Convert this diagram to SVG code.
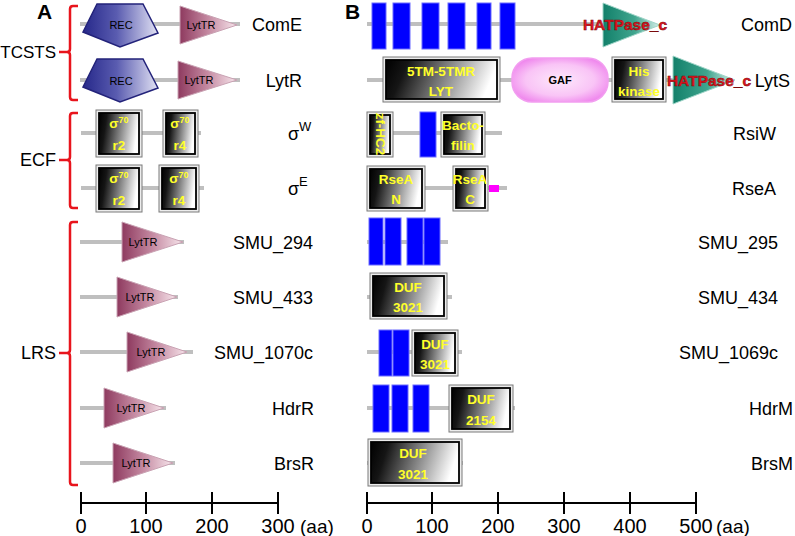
<svg xmlns="http://www.w3.org/2000/svg" width="795" height="536" viewBox="0 0 795 536">
<defs>
<linearGradient id="bw" x1="0" y1="0" x2="1" y2="0.15"><stop offset="0" stop-color="#000"/><stop offset="0.2" stop-color="#151515"/><stop offset="1" stop-color="#fff"/></linearGradient>
<linearGradient id="rec" x1="0" y1="0" x2="1" y2="0"><stop offset="0" stop-color="#26288a"/><stop offset="0.45" stop-color="#5a5cb0"/><stop offset="1" stop-color="#e2e2f4"/></linearGradient>
<linearGradient id="lyt" x1="0" y1="0" x2="1" y2="0"><stop offset="0" stop-color="#8e3a5f"/><stop offset="0.5" stop-color="#c58aa2"/><stop offset="1" stop-color="#f7e6ec"/></linearGradient>
<linearGradient id="hat" x1="0" y1="0" x2="1" y2="0"><stop offset="0" stop-color="#12806a"/><stop offset="0.55" stop-color="#3fa58e"/><stop offset="1" stop-color="#d8f0ea"/></linearGradient>
<radialGradient id="gaf" cx="0.5" cy="0.5" r="0.6"><stop offset="0" stop-color="#fde8fb"/><stop offset="0.6" stop-color="#f9c4f6"/><stop offset="1" stop-color="#ee80ec"/></radialGradient>
<style>
.ln{stroke:#bfbfbf;stroke-width:4;fill:none}
.br{stroke:#e8141c;stroke-width:2.5;fill:none}
.ax{stroke:#000;stroke-width:2;fill:none}
.recs{fill:url(#rec);stroke:#23237a;stroke-width:1.5}
.lyts{fill:url(#lyt);stroke:#c9a2b3;stroke-width:1}
.hats{fill:url(#hat);stroke:#9fd5c8;stroke-width:1}
.out{fill:#ececec;stroke:#7a7a7a;stroke-width:1}
.inn{fill:url(#bw);stroke:#000;stroke-width:1.8}
.tm{fill:#0000ff;stroke:#6a6aff;stroke-width:1}
.t{font-family:"Liberation Sans",Arial,sans-serif;fill:#000}
.lab{font-size:18px}
.dl{font-size:11px;text-anchor:middle}
.yl{font-family:"Liberation Sans",Arial,sans-serif;font-weight:bold;font-size:13.5px;fill:#ffff2a;text-anchor:middle}
.hp{font-family:"Liberation Sans",Arial,sans-serif;font-weight:bold;font-size:15.5px;fill:#e5141e;stroke:#7a0a0a;stroke-width:0.5;text-anchor:middle}
</style>
</defs>

<text class="t" x="37" y="19" font-size="21" font-weight="bold">A</text>
<text class="t" x="345" y="19" font-size="21" font-weight="bold">B</text>

<g id="brackets">
<path class="br" d="M78,6 H73 Q70,6 70,9 V49 Q70,52 67,52 H59 M67,52 Q70,52 70,55 V97 Q70,100 73,100 H78"/>
<path class="br" d="M78,113 H73 Q70,113 70,116 V157 Q70,160 67,160 H59 M67,160 Q70,160 70,163 V205 Q70,208 73,208 H78"/>
<path class="br" d="M78,222 H73 Q70,222 70,225 V350 Q70,353 67,353 H59 M67,353 Q70,353 70,356 V482 Q70,485 73,485 H78"/>
<text class="t" font-size="17" x="56" y="58" text-anchor="end">TCSTS</text>
<text class="t lab" x="56" y="166" text-anchor="end">ECF</text>
<text class="t lab" x="56" y="359" text-anchor="end">LRS</text>
</g>

<g id="connectors">
<line class="ln" x1="80" y1="24" x2="240" y2="24"/>
<line class="ln" x1="80" y1="80" x2="240" y2="80"/>
<line class="ln" x1="81" y1="133" x2="201" y2="133"/>
<line class="ln" x1="81" y1="188" x2="204" y2="188"/>
<line class="ln" x1="80" y1="242" x2="184" y2="242"/>
<line class="ln" x1="80" y1="297" x2="178" y2="297"/>
<line class="ln" x1="80" y1="352" x2="193" y2="352"/>
<line class="ln" x1="80" y1="408" x2="166" y2="408"/>
<line class="ln" x1="80" y1="463" x2="175" y2="463"/>
<line class="ln" x1="367" y1="24" x2="600" y2="24"/>
<line class="ln" x1="367" y1="80" x2="676" y2="80"/>
<line class="ln" x1="367" y1="133" x2="502" y2="133"/>
<line class="ln" x1="367" y1="188" x2="507" y2="188"/>
<line class="ln" x1="367" y1="242" x2="448" y2="242"/>
<line class="ln" x1="367" y1="297" x2="452" y2="297"/>
<line class="ln" x1="367" y1="352" x2="462" y2="352"/>
<line class="ln" x1="367" y1="408" x2="515" y2="408"/>
<line class="ln" x1="367" y1="463" x2="463" y2="463"/>
</g>

<g id="ComE">
<polygon class="recs" points="97,4 143,4 158,33 120,47 83,32"/>
<text class="t dl" x="121" y="29">REC</text>
<polygon class="lyts" points="180,6 237,25 180,44"/>
<text class="t dl" x="201" y="29">LytTR</text>
<text class="t lab" x="302" y="31" text-anchor="end">ComE</text>
</g>
<g id="LytR">
<polygon class="recs" points="97,59 143,59 158,88 120,102 83,87"/>
<text class="t dl" x="121" y="85">REC</text>
<polygon class="lyts" points="178,61 237,80 178,99"/>
<text class="t dl" x="199" y="84">LytTR</text>
<text class="t lab" x="302" y="87" text-anchor="end">LytR</text>
</g>

<g id="sigmaW">
<rect class="out" x="96" y="110" width="46" height="47"/><rect class="inn" x="99" y="113" width="40" height="41"/>
<text class="yl" x="119" y="128">σ<tspan font-size="9" dy="-5">70</tspan></text><text class="yl" x="119" y="150">r2</text>
<rect class="out" x="163" y="110" width="35" height="47"/><rect class="inn" x="166" y="113" width="29" height="41"/>
<text class="yl" x="180" y="128">σ<tspan font-size="9" dy="-5">70</tspan></text><text class="yl" x="180" y="150">r4</text>
<text class="t lab" x="288" y="140">σ<tspan font-size="13" dy="-9">W</tspan></text>
</g>
<g id="sigmaE">
<rect class="out" x="96" y="165" width="46" height="47"/><rect class="inn" x="99" y="168" width="40" height="41"/>
<text class="yl" x="119" y="183">σ<tspan font-size="9" dy="-5">70</tspan></text><text class="yl" x="119" y="205">r2</text>
<rect class="out" x="159" y="165" width="40" height="47"/><rect class="inn" x="162" y="168" width="34" height="41"/>
<text class="yl" x="179" y="183">σ<tspan font-size="9" dy="-5">70</tspan></text><text class="yl" x="179" y="205">r4</text>
<text class="t lab" x="288" y="195">σ<tspan font-size="13" dy="-9">E</tspan></text>
</g>

<g id="SMU_294">
<polygon class="lyts" points="122,222 183,242 122,262"/>
<text class="t dl" x="143" y="246">LytTR</text>
<text class="t lab" x="313" y="249" text-anchor="end">SMU_294</text>
</g>
<g id="SMU_433">
<polygon class="lyts" points="117,277 177,297 117,317"/>
<text class="t dl" x="140" y="301">LytTR</text>
<text class="t lab" x="313" y="304" text-anchor="end">SMU_433</text>
</g>
<g id="SMU_1070c">
<polygon class="lyts" points="127,332 187,352 127,372"/>
<text class="t dl" x="151" y="356">LytTR</text>
<text class="t lab" x="313" y="359" text-anchor="end">SMU_1070c</text>
</g>
<g id="HdrR">
<polygon class="lyts" points="104,388 164,408 104,428"/>
<text class="t dl" x="131" y="412" font-size="12">LytTR</text>
<text class="t lab" x="314" y="415" text-anchor="end">HdrR</text>
</g>
<g id="BrsR">
<polygon class="lyts" points="113,443 173,463 113,483"/>
<text class="t dl" x="136" y="467">LytTR</text>
<text class="t lab" x="314" y="470" text-anchor="end">BrsR</text>
</g>

<g id="ComD">
<rect class="tm" x="372" y="3" width="14" height="46"/>
<rect class="tm" x="393" y="3" width="17" height="46"/>
<rect class="tm" x="422" y="3" width="17" height="46"/>
<rect class="tm" x="448" y="3" width="17" height="46"/>
<rect class="tm" x="477" y="3" width="14" height="46"/>
<rect class="tm" x="500" y="3" width="15" height="46"/>
<polygon class="hats" points="603,3 660,25 603,47"/>
<text class="hp" x="625" y="30">HATPase_c</text>
<text class="t lab" x="792" y="31" text-anchor="end">ComD</text>
</g>
<g id="LytS">
<rect class="out" x="383" y="57" width="117" height="45"/><rect class="inn" x="386" y="60" width="111" height="39"/>
<text class="yl" x="441" y="76">5TM-5TMR</text><text class="yl" x="441" y="96">LYT</text>
<rect x="512" y="58" width="96" height="44" rx="20" fill="url(#gaf)" stroke="#f29ef0" stroke-width="1.5"/>
<text class="t dl" x="560" y="84" font-weight="bold">GAF</text>
<rect class="out" x="612" y="57" width="54" height="45"/><rect class="inn" x="615" y="60" width="48" height="39"/>
<text class="yl" x="639" y="76">His</text><text class="yl" x="639" y="96">kinase</text>
<polygon class="hats" points="673,56 735,80 673,104"/>
<text class="hp" x="709" y="86">HATPase_c</text>
<text class="t lab" x="790" y="87" text-anchor="end">LytS</text>
</g>
<g id="RsiW">
<rect class="out" x="367" y="112" width="26" height="45"/><rect class="inn" x="370" y="115" width="20" height="39"/>
<text class="yl" transform="translate(380,134) rotate(90)" font-size="11" dy="4">zf-HC2</text>
<rect class="tm" x="420" y="112" width="16" height="45"/>
<rect class="out" x="441" y="112" width="44" height="45"/><rect class="inn" x="444" y="115" width="38" height="39"/>
<text class="yl" x="463" y="130">Bacto-</text><text class="yl" x="463" y="150">filin</text>
<text class="t lab" x="776" y="140" text-anchor="end">RsiW</text>
</g>
<g id="RseA">
<rect class="out" x="367" y="166" width="58" height="45"/><rect class="inn" x="370" y="169" width="52" height="39"/>
<text class="yl" x="396" y="184">RseA</text><text class="yl" x="396" y="204">N</text>
<rect class="out" x="453" y="166" width="35" height="45"/><rect class="inn" x="456" y="169" width="29" height="39"/>
<text class="yl" x="470" y="184">RseA</text><text class="yl" x="470" y="204">C</text>
<rect x="489" y="185" width="10" height="7" fill="#ff00ff"/>
<text class="t lab" x="776" y="195" text-anchor="end">RseA</text>
</g>
<g id="SMU_295">
<rect class="tm" x="369" y="218" width="14" height="47"/>
<rect class="tm" x="385" y="218" width="16" height="47"/>
<rect class="tm" x="407" y="218" width="16" height="47"/>
<rect class="tm" x="424" y="218" width="16" height="47"/>
<text class="t lab" x="778" y="249" text-anchor="end">SMU_295</text>
</g>
<g id="SMU_434">
<rect class="out" x="370" y="273" width="77" height="46"/><rect class="inn" x="373" y="276" width="71" height="40"/>
<text class="yl" x="408" y="292">DUF</text><text class="yl" x="408" y="312">3021</text>
<text class="t lab" x="778" y="304" text-anchor="end">SMU_434</text>
</g>
<g id="SMU_1069c">
<rect class="tm" x="379" y="330" width="13" height="46"/>
<rect class="tm" x="393" y="330" width="16" height="46"/>
<rect class="out" x="412" y="330" width="46" height="46"/><rect class="inn" x="415" y="333" width="40" height="40"/>
<text class="yl" x="435" y="349">DUF</text><text class="yl" x="435" y="369">3021</text>
<text class="t lab" x="778" y="359" text-anchor="end">SMU_1069c</text>
</g>
<g id="HdrM">
<rect class="tm" x="373" y="385" width="16" height="47"/>
<rect class="tm" x="392" y="385" width="16" height="47"/>
<rect class="tm" x="413" y="385" width="16" height="47"/>
<rect class="out" x="449" y="385" width="64" height="47"/><rect class="inn" x="452" y="388" width="58" height="41"/>
<text class="yl" x="481" y="404">DUF</text><text class="yl" x="481" y="425">2154</text>
<text class="t lab" x="793" y="415" text-anchor="end">HdrM</text>
</g>
<g id="BrsM">
<rect class="out" x="368" y="439" width="94" height="47"/><rect class="inn" x="371" y="442" width="88" height="41"/>
<text class="yl" x="413" y="458">DUF</text><text class="yl" x="413" y="479">3021</text>
<text class="t lab" x="793" y="470" text-anchor="end">BrsM</text>
</g>

<g id="axisA">
<path class="ax" d="M81,503 H278 M81,492 V514 M146,492 V514 M212,492 V514 M278,492 V514"/>
<g class="t" font-size="20" text-anchor="middle">
<text x="81" y="533">0</text><text x="146" y="533">100</text><text x="212" y="533">200</text><text x="278" y="533">300</text>
</g>
<text class="t" x="300" y="533" font-size="19">(aa)</text>
</g>
<g id="axisB">
<path class="ax" d="M367,503 H696 M367,492 V514 M432,492 V514 M498,492 V514 M564,492 V514 M630,492 V514 M696,492 V514"/>
<g class="t" font-size="20" text-anchor="middle">
<text x="367" y="533">0</text><text x="432" y="533">100</text><text x="498" y="533">200</text><text x="564" y="533">300</text><text x="630" y="533">400</text><text x="696" y="533">500</text>
</g>
<text class="t" x="716" y="533" font-size="19">(aa)</text>
</g>
</svg>
